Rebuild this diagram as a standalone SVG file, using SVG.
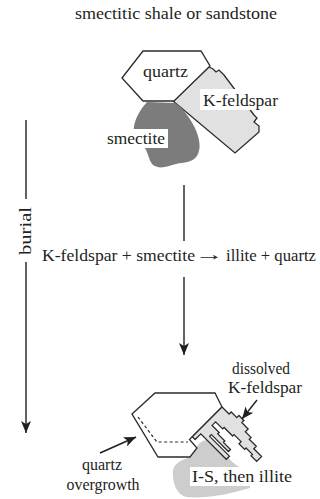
<svg xmlns="http://www.w3.org/2000/svg" width="320" height="499" viewBox="0 0 320 499">
  <style>
    .lbl { font-family: "Liberation Serif", "Times New Roman", serif; font-size: 17px; fill: #231f20; }
    .grain { stroke: #2b2b2b; stroke-width: 1.3; stroke-linejoin: miter; }
    .conn { stroke: #231f20; stroke-width: 1.4; fill: none; }
    .box { fill: #ffffff; stroke: none; }
  </style>
  <defs>
    <marker id="head" markerUnits="userSpaceOnUse" markerWidth="14" markerHeight="10" refX="12" refY="5" orient="auto">
      <path d="M0,0 L12,5 L0,10 L3,5 Z" fill="#231f20"/>
    </marker>
  </defs>

  <rect width="320" height="499" fill="#ffffff"/>

  <text class="lbl" x="176" y="19" text-anchor="middle" textLength="202" lengthAdjust="spacingAndGlyphs">smectitic shale or sandstone</text>

  <!-- upper sketch: fresh grains -->
  <g id="kfeldspar-top">
    <path class="grain" fill="#e1e1e1" d="M173,101 L209,67 L213,69 L216,72 L219,70 L224,75 L254,115 L257,118 L254,122 L259,126 L259,132 L235,153 Z"/>
  </g>
  <g id="quartz-top">
    <path class="grain" fill="#ffffff" d="M122,78 L143,51 L201,51 L210,66 L174,101 L143,101 Z"/>
  </g>
  <g id="smectite">
    <path fill="#7c7c7c" d="M147,102 L175,103 C183,108 190,118 195,128 C199,137 202,148 197,156 C192,163 184,162 176,164 C168,166 160,170 153,165 C148,160 149,152 143,146 C137,140 133,134 134,126 C136,117 140,110 147,102 Z"/>
  </g>
  <g id="labels-top">
    <text class="lbl" x="143" y="77" textLength="45" lengthAdjust="spacingAndGlyphs">quartz</text>
    <rect class="box" x="200" y="89" width="80" height="21"/>
    <text class="lbl" x="203" y="106" textLength="75" lengthAdjust="spacingAndGlyphs">K-feldspar</text>
    <rect class="box" x="105" y="129" width="63" height="19"/>
    <text class="lbl" x="107" y="143.5" textLength="58" lengthAdjust="spacingAndGlyphs">smectite</text>
  </g>

  <!-- reaction -->
  <g id="reaction">
    <text class="lbl" x="42" y="261" textLength="153" lengthAdjust="spacingAndGlyphs">K-feldspar + smectite</text>
    <text class="lbl" transform="translate(195,260) scale(1.7,1)">→</text>
    <text class="lbl" x="226" y="261" textLength="90" lengthAdjust="spacingAndGlyphs">illite + quartz</text>
  </g>

  <!-- burial axis -->
  <g id="burial">
    <text class="lbl" transform="translate(31,231) rotate(-90)" text-anchor="middle" textLength="48" lengthAdjust="spacingAndGlyphs">burial</text>
  </g>

  <!-- lower sketch: after burial -->
  <g id="is-illite">
    <path fill="#cdcdcd" d="M198,445 C203,438 214,438 221,447 C227,458 236,468 250,471 L250,488 C230,494 205,499 186,497 C176,494 172,482 173,470 C175,461 186,459 192,456 Z"/>
  </g>
  <g id="quartz-bottom">
    <path class="grain" fill="#ffffff" d="M132,414 L155,393 L215,393 L222,407 L189.5,439.5 L197,448 L190,457 L158,457 Z"/>
    <path fill="none" stroke="#2b2b2b" stroke-width="1.2" stroke-dasharray="3,2.5" d="M138,417 L157,442 L188,442"/>
  </g>
  <!-- dissolved grain drawn in its own 45° frame, origin at the quartz corner -->
  <g id="kfeldspar-dissolved" transform="translate(222,407) rotate(45)">
    <path class="grain" fill="#e1e1e1" d="M0,0 L10,0 L10,-3 L18,-3 L18,-6 L25,-6 L25,-3 L34,-3 L34,1 L42,1 L42,3.5 L52,3.5 L52,7 L63,7 L63,14 L55,14 L55,12 L46,12 L46,14 L38,14 L38,11 L28,11 L28,13 L16,13 L16,15 L6,15 L6,20 L16,20 L16,22 L26,22 L26,24 L36,24 L36,27 L12,27 L12,29.5 L40,29.5 L40,34 L4,34 L4,42 L0,42 Z"/>
  </g>
  <g id="labels-bottom">
    <text class="lbl" x="261" y="374" text-anchor="middle" textLength="58" lengthAdjust="spacingAndGlyphs">dissolved</text>
    <text class="lbl" x="265" y="393" text-anchor="middle" textLength="74" lengthAdjust="spacingAndGlyphs">K-feldspar</text>
    <rect class="box" x="190" y="467" width="104" height="19"/>
    <text class="lbl" x="192" y="482" textLength="100" lengthAdjust="spacingAndGlyphs">I-S, then illite</text>
    <text class="lbl" x="102" y="470" text-anchor="middle" textLength="40" lengthAdjust="spacingAndGlyphs">quartz</text>
    <text class="lbl" x="103" y="490" text-anchor="middle" textLength="73" lengthAdjust="spacingAndGlyphs">overgrowth</text>
  </g>

  <g id="connectors">
    <line class="conn" x1="184" y1="185" x2="184" y2="241"/>
    <line class="conn" x1="184" y1="277" x2="184" y2="355" marker-end="url(#head)"/>
    <line class="conn" x1="26" y1="120" x2="26" y2="199"/>
    <line class="conn" x1="26" y1="262" x2="26" y2="433" marker-end="url(#head)"/>
    <line class="conn" x1="100" y1="453" x2="136" y2="437" marker-end="url(#head)"/>
    <line class="conn" x1="257" y1="400" x2="242" y2="419" marker-end="url(#head)"/>
  </g>
</svg>
